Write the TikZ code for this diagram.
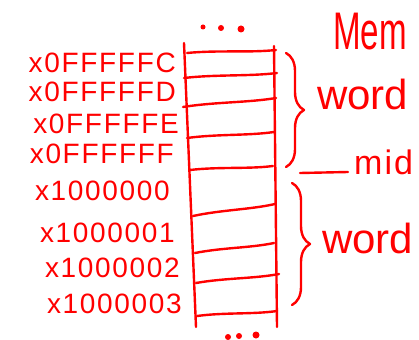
\documentclass[tikz,border=0pt]{standalone}
\usepackage{fontspec}
\setmainfont{Liberation Sans}
\newfontfamily\handfont[LetterSpace=6]{Liberation Sans}
\usetikzlibrary{decorations.pathreplacing, calc}
\definecolor{ink}{HTML}{FF0000}

\begin{document}
\begin{tikzpicture}[
  x=1pt, y=-1pt,
  pen/.style={draw=ink, line width=2.4pt, line cap=round, line join=round},
  addr/.style={text=ink, anchor=base east, inner sep=0pt,
    font=\handfont\fontsize{28}{28}\selectfont},
  note/.style={text=ink, anchor=base west, inner sep=0pt},
  bracket/.style={pen, decorate, decoration={brace, amplitude=18pt}},
  dot/.style={circle, fill=ink, inner sep=0pt},
]

\useasboundingbox (0,0) rectangle (419,339);

% =============================================
% Memory column
% =============================================
\coordinate (topleft) at (184,43);
\coordinate (botleft) at (196,327);
\coordinate (topright) at (274,46);
\coordinate (botright) at (277,327);

\draw[pen] (topleft) -- (botleft);
\draw[pen] (topright) -- (botright);

\foreach \xl/\yl/\xr/\yr in {187/53/276/50, 184/78/277/73, 183/107/276/98,
    187/138/274/132, 190/170/273/166, 193/216/275/204,
    195/253/274/243, 196/283/279/274, 197/316/277/311}
  \draw[pen] (\xl,\yl) .. controls ($(\xl,\yl)!0.35!(\xr,\yr)+(0,-2)$)
    and ($(\xl,\yl)!0.7!(\xr,\yr)+(0,2)$) .. (\xr,\yr);

% dots above and below
\node[dot, minimum size=5pt] (dotA) at (203,27) {};
\node[dot, minimum size=6pt] (dotB) at (221,28) {};
\node[dot, minimum size=7pt] (dotC) at (241,29) {};
\node[dot, minimum size=6pt] (dotD) at (228,337) {};
\node[dot, minimum size=6pt] (dotE) at (239,336) {};
\node[dot, minimum size=7pt] (dotF) at (256,335) {};

% =============================================
% Addresses
% =============================================
\node[addr] (adrC) at (176,73) {x0FFFFFC};
\node[addr] (adrD) at (176,102) {x0FFFFFD};
\node[addr] (adrE) at (179,133) {x0FFFFFE};
\node[addr] (adrF) at (174,163) {x0FFFFFF};
\node[addr] (adr0) at (170,200) {x1000000};
\node[addr] (adr1) at (175,242) {x1000001};
\node[addr] (adr2) at (180,277) {x1000002};
\node[addr] (adr3) at (182,313) {x1000003};

% =============================================
% Braces and labels on the right
% =============================================
\coordinate (upA) at (286,53);
\coordinate (upB) at (286,167);
\draw[bracket] (upA) -- (upB);

\coordinate (lowA) at (292,183);
\coordinate (lowB) at (292,305);
\draw[bracket] (lowA) -- (lowB);

\node[note, font=\fontsize{46}{46}\selectfont, xscale=0.72, yscale=1.15] (mem) at (333,50) {Mem};

\node[note, font=\fontsize{42}{42}\selectfont] (wordup) at (317,110) {word};
\node[note, font=\fontsize{42}{42}\selectfont] (wordlow) at (322,253) {word};

\coordinate (midstart) at (300,173);
\node[note, font=\handfont\fontsize{34}{34}\selectfont] (mid) at (354,174) {mid};
\draw[pen] (midstart) -- ($(mid.base west)+(-6,-2)$);

\end{tikzpicture}
\end{document}
